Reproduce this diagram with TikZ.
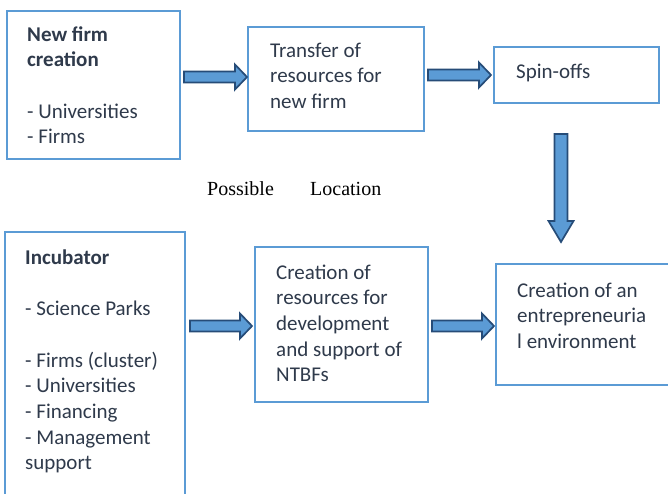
\documentclass[tikz,border=0pt]{standalone}
\usepackage{fontspec}
\setmainfont{Carlito}
\newfontfamily\tmsfont{Liberation Serif}
\usetikzlibrary{calc}
\definecolor{boxblue}{HTML}{5B9BD5}
\definecolor{arrdark}{HTML}{264C78}
\definecolor{txtc}{HTML}{2F3A4B}
\newcommand\myharrow[2]{\draw[blockarr] let \p1=(#1), \p2=(#2) in
  (\x1,\y1-5.5) -- (\x2-12,\y1-5.5) -- (\x2-12,\y1-12.5) -- (\x2,\y1) --
  (\x2-12,\y1+12.5) -- (\x2-12,\y1+5.5) -- (\x1,\y1+5.5) -- cycle;}
\newcommand\myvarrow[2]{\draw[blockarr] let \p1=(#1), \p2=(#2) in
  (\x1-6.5,\y1) -- (\x1-6.5,\y2+21) -- (\x1-12.5,\y2+21) -- (\x1,\y2) --
  (\x1+12.5,\y2+21) -- (\x1+6.5,\y2+21) -- (\x1+6.5,\y1) -- cycle;}
\begin{document}
\begin{tikzpicture}[x=1pt,y=-1pt,
  box/.style={draw=boxblue, line width=2.6pt, fill=white, inner sep=0pt, rectangle},
  txt/.style={anchor=north west, inner sep=0pt, align=left, text=txtc,
    font=\fontsize{21}{25.7}\selectfont},
  serifl/.style={anchor=base west, inner sep=0pt, text=black,
    font=\tmsfont\fontsize{20}{24}\selectfont},
  blockarr/.style={fill=boxblue, draw=arrdark, line width=1.7pt, line join=miter}]
\useasboundingbox (0,0) rectangle (668,493);
\clip (0,0) rectangle (668,493);
% boxes
\node[box, minimum width=173, minimum height=148] (b1) at (93.5,85) {};
\node[box, minimum width=176, minimum height=104] (b2) at (336,79) {};
\node[box, minimum width=165, minimum height=56] (b3) at (576.5,75) {};
\node[box, minimum width=180, minimum height=280] (b4) at (95,372) {};
\node[box, minimum width=173, minimum height=155] (b5) at (341.5,324.5) {};
\node[box, minimum width=190, minimum height=121] (b6) at (591,324.5) {};
% texts
\node[txt] (t1) at (27,23) {\strut\textbf{New firm}\\ \textbf{creation}\\ \strut\\ - Universities\\ - Firms};
\node[txt] (t2) at (270,39) {\strut Transfer of\\ resources for\\ new firm};
\node[txt] (t3) at (516,60) {\strut Spin-offs};
\node[txt] (t4) at (25,246) {\strut\textbf{Incubator}\\ \strut\\ - Science Parks\\ \strut\\ - Firms (cluster)\\ - Universities\\ - Financing\\ - Management\\ support};
\node[txt] (t5) at (276,261) {\strut Creation of\\ resources for\\ development\\ and support of\\ NTBFs};
\node[txt] (t6) at (517,279) {\strut Creation of an\\ entrepreneuria\\ l environment};
\node[serifl] (p1) at (207,195) {Possible};
\node[serifl] (p2) at (310,195) {Location};
% arrows
\coordinate (a1s) at (184,77);  \coordinate (a1e) at (247,77);
\coordinate (a2s) at (428,75);  \coordinate (a2e) at (491,75);
\coordinate (a3s) at (561,134); \coordinate (a3e) at (561,242);
\coordinate (a4s) at (190,326); \coordinate (a4e) at (252,326);
\coordinate (a5s) at (432,326); \coordinate (a5e) at (494,326);
\myharrow{a1s}{a1e}
\myharrow{a2s}{a2e}
\myvarrow{a3s}{a3e}
\myharrow{a4s}{a4e}
\myharrow{a5s}{a5e}
\end{tikzpicture}
\end{document}
